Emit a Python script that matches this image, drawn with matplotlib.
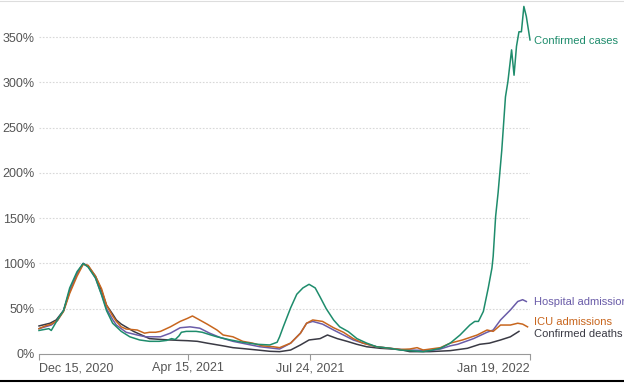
import numpy as np
import matplotlib
matplotlib.use("Agg")
import matplotlib.pyplot as plt
from matplotlib.lines import Line2D

plt.rcParams['font.family'] = ['Liberation Sans', 'DejaVu Sans']

start_date = np.datetime64('2020-12-15')
end_date = np.datetime64('2022-01-19')

# Confirmed cases (% of previous peak), day offsets from start_date
cases_days = [0, 4, 8, 10, 13, 16, 20, 25, 31, 36, 40, 46, 51, 55, 60, 67, 74, 82, 90, 98,
              104, 108, 111, 114, 116, 120, 128, 133, 140, 145, 156, 166, 178, 188, 194, 196,
              199, 205, 210, 215, 220, 225, 229, 234, 240, 245, 252, 259, 267, 275, 286, 294,
              302, 313, 318, 327, 335, 343, 351, 355, 358, 362, 366, 369, 370, 372, 374, 377,
              380, 382, 385, 387, 389, 391, 393, 395, 397, 400]
cases_vals = [26, 27, 28, 26, 33, 40, 48, 73, 91, 100, 96, 84, 65, 48, 34, 25, 19, 15.5, 14, 14,
              15, 17, 16, 20, 24, 25, 25, 24, 21, 19, 15.5, 13, 10.7, 10, 13, 19,
              30, 51, 66, 73, 77, 73, 63, 50, 37.6, 30, 24.7, 17, 12, 8, 6.3, 4.4,
              3.7, 2.6, 3.7, 6.3, 12, 21, 32, 36, 36, 47, 73, 95, 108, 152, 178, 225,
              284, 301, 336, 308, 340, 356, 356, 384, 373, 347]

hosp_days = [0, 5, 10, 15, 20, 25, 31, 36, 40, 46, 51, 55, 60, 63, 67, 71, 80, 87, 95, 99,
             107, 115, 123, 131, 139, 148, 158, 170, 180, 191, 196, 205, 213, 218, 223, 231,
             240, 248, 256, 264, 275, 286, 294, 302, 313, 320, 327, 335, 341, 354, 365, 370,
             376, 384, 390, 394, 397]
hosp_vals = [28, 30, 32, 37, 48, 70, 89, 100, 97, 84, 66, 50, 38, 32, 28, 24, 21, 19, 19, 19,
             23, 29, 30, 28.5, 23, 18, 14, 10.7, 8, 6.3, 5.5, 12, 23, 34, 36, 33,
             26.5, 21, 15.5, 12, 8, 6.3, 5, 4.4, 4, 4, 5.5, 9, 10.7, 17, 24, 26.5,
             37.6, 48.6, 58, 60, 58]

icu_days = [0, 5, 10, 15, 20, 25, 31, 36, 40, 46, 51, 55, 60, 63, 67, 71, 80, 86, 90, 95, 99,
            107, 115, 121, 125, 129, 137, 145, 150, 158, 166, 174, 182, 191, 196, 205, 213,
            218, 223, 231, 240, 248, 256, 264, 275, 286, 294, 302, 308, 313, 327, 335, 345,
            357, 365, 370, 376, 384, 390, 394, 398]
icu_vals = [28, 31, 33, 37, 47, 67, 86, 99, 98, 86, 72, 54, 42, 36, 30, 27.6, 26.5, 23, 24, 24, 25,
            30, 36, 39.4, 42, 39, 33, 26.5, 21, 19, 14, 12, 9, 8, 7, 12, 23,
            34, 37.6, 36, 29, 24, 17, 12, 8, 6.3, 5, 5.5, 7, 4.4, 7, 12, 15.5,
            21, 26.5, 25, 32, 32, 34, 33, 30]

deaths_days = [0, 9, 14, 20, 25, 31, 36, 40, 46, 51, 55, 60, 63, 67, 77, 90, 100, 107, 115,
               121, 129, 137, 150, 158, 166, 178, 188, 196, 205, 213, 220, 229, 235, 243, 251,
               259, 267, 278, 294, 302, 318, 335, 349, 359, 367, 376, 384, 391]
deaths_vals = [31, 34, 37.6, 48, 69, 89, 100, 97, 86, 70, 54, 44, 37.6, 33, 25, 17, 16, 15.5, 15,
               14.7, 14, 12, 9, 7, 6, 4.4, 3, 2.6, 4.4, 10, 15.5, 17, 21, 17, 14,
               10.7, 8, 6.3, 5, 2.6, 2.6, 3.7, 6.3, 10.7, 12, 15.5, 19, 25]

tick_dates = ['2020-12-15', '2021-04-15', '2021-07-24', '2022-01-19']
tick_labels = ['Dec 15, 2020', 'Apr 15, 2021', 'Jul 24, 2021', 'Jan 19, 2022']
y_ticks = [0, 50, 100, 150, 200, 250, 300, 350]

c_cases = '#1e8c6c'
c_hosp = '#6a5ca8'
c_icu = '#c8661e'
c_deaths = '#3a3a44'

fig = plt.figure(figsize=(6.24, 3.84), dpi=100)
ax = fig.add_axes([39/624, 30/384, (530-39)/624, (384-30-1)/384])

def to_dates(days):
    return start_date + np.array(days, dtype='timedelta64[D]')

lw = 1.1
ax.plot(to_dates(deaths_days), deaths_vals, color=c_deaths, lw=lw, clip_on=False, zorder=3)
ax.plot(to_dates(hosp_days), hosp_vals, color=c_hosp, lw=lw, clip_on=False, zorder=4)
ax.plot(to_dates(icu_days), icu_vals, color=c_icu, lw=lw, clip_on=False, zorder=5)
ax.plot(to_dates(cases_days), cases_vals, color=c_cases, lw=lw, clip_on=False, zorder=6)

ax.set_xlim(start_date, end_date)
ax.set_ylim(0, 390)

ax.set_yticks(y_ticks)
ax.set_yticklabels([f'{v}%' for v in y_ticks])
ax.tick_params(axis='y', length=0, pad=3, labelsize=9, labelcolor='#555555')
for v in y_ticks[1:]:
    ax.axhline(v, color='#d8d8d8', lw=0.8, ls=(0, (1.5, 1.5)), zorder=1)

ax.set_xticks(np.array(tick_dates, dtype='datetime64[D]'))
ax.set_xticklabels(tick_labels)
ax.tick_params(axis='x', length=4, width=0.8, color='#999999', pad=2,
               labelsize=9, labelcolor='#555555')
xl = ax.get_xticklabels()
xl[0].set_ha('left')
xl[-1].set_ha('right')

for s in ['top', 'right', 'left']:
    ax.spines[s].set_visible(False)
ax.spines['bottom'].set_color('#999999')
ax.spines['bottom'].set_linewidth(0.8)

lab_x = end_date + np.timedelta64(3, 'D')
ax.text(lab_x, 346, 'Confirmed cases', color=c_cases, fontsize=8, va='center', ha='left', clip_on=False)
ax.text(lab_x, 57, 'Hospital admissions', color=c_hosp, fontsize=8, va='center', ha='left', clip_on=False)
ax.text(lab_x, 35, 'ICU admissions', color=c_icu, fontsize=8, va='center', ha='left', clip_on=False)
ax.text(lab_x, 22, 'Confirmed deaths', color=c_deaths, fontsize=8, va='center', ha='left', clip_on=False)

fig.add_artist(Line2D([0, 1], [1 - 1/384, 1 - 1/384], color='#dddddd', lw=0.8, transform=fig.transFigure))
fig.add_artist(Line2D([0, 1], [3/384, 3/384], color='black', lw=1.5, transform=fig.transFigure))

fig.savefig('out.png', dpi=100)
